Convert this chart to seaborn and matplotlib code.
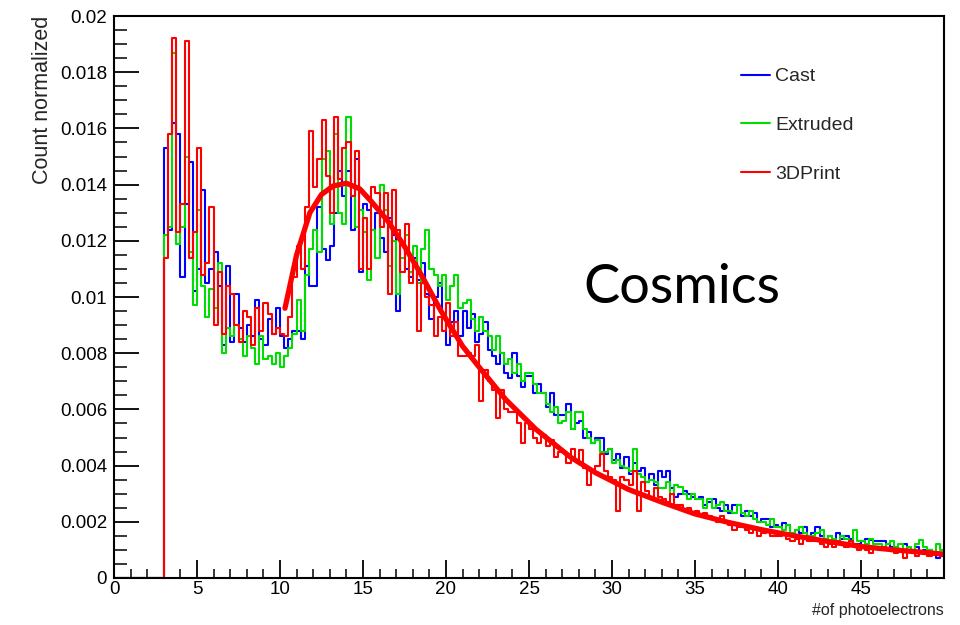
import numpy as np
import pandas as pd
import matplotlib
matplotlib.use("Agg")
import matplotlib.pyplot as plt
import seaborn as sns
from matplotlib.lines import Line2D
from matplotlib.ticker import MultipleLocator, FuncFormatter

# ---------------- data (bin contents in units of 1e-3, bins of 0.25 from 0 to 50) -------------
empty_bins = [0.0] * 12   # 0 .. 3 : no entries

cast = [
    15.3, 12.4, 16.2, 15.8,   10.7, 13.3, 14.8, 10.2,   11.0, 13.8, 10.5, 11.0,
    11.6, 10.4, 8.3, 11.1,    8.4, 10.1, 8.9, 8.4,      9.0, 8.6, 9.9, 8.5,
    8.3, 9.2, 8.7, 9.6,       8.6, 8.2, 8.5, 8.8,       8.8, 8.5, 11.1, 10.4,
    10.4, 13.2, 11.7, 11.3,   11.8, 13.0, 14.5, 13.6,   14.5, 12.4, 14.9, 10.9,
    13.3, 13.1, 12.4, 13.0,   12.1, 11.6, 12.8, 12.2,   9.5, 11.9, 11.0, 10.7,
    11.4, 10.6, 11.2, 10.1,   9.2, 10.0, 10.5, 9.4,     8.3, 9.1, 9.5, 8.6,
    9.5, 8.9, 9.4, 8.4,       8.7, 9.1, 8.1, 7.9,       7.6, 8.0, 7.3, 7.1,
    8.0, 7.2, 6.8, 7.2,       7.2, 6.6, 6.9, 6.6,       6.1, 6.6, 5.8, 5.8,
    5.8, 6.2, 5.3, 5.5,       5.6, 5.0, 5.2, 4.8,       5.0, 5.0, 4.4, 4.6,
    4.2, 4.4, 3.9, 4.3,       3.7, 4.1, 3.8, 3.9,       3.4, 3.7, 3.3, 3.8,
    3.6, 3.8, 3.2, 2.9,       3.0, 3.1, 3.0, 2.9,       2.8, 2.9, 2.6, 2.7,
    2.8, 2.5, 2.4, 2.6,       2.3, 2.6, 2.6, 2.2,       2.4, 2.2, 2.3, 2.0,
    2.1, 2.1, 1.8, 1.9,       1.8, 1.95, 1.9, 1.6,      1.7, 1.6, 1.8, 1.5,
    1.6, 1.8, 1.5, 1.4,       1.5, 1.3, 1.6, 1.4,       1.5, 1.4, 1.2, 1.2,
    1.3, 1.4, 1.35, 1.3,      1.3, 1.3, 1.2, 1.1,       1.1, 1.0, 1.2, 1.0,
    1.0, 1.1, 0.9, 1.0,       1.0, 0.9, 0.7, 0.8,
]

extruded = [
    12.2, 12.5, 18.7, 11.9,   12.5, 15.0, 11.6, 9.7,    13.1, 10.4, 9.3, 10.3,
    9.6, 11.2, 8.0, 8.9,      8.6, 9.0, 8.5, 7.9,       8.6, 8.2, 7.6, 8.6,
    7.8, 7.9, 7.6, 8.0,       7.5, 7.9, 8.2, 8.7,       9.9, 8.8, 10.8, 11.7,
    12.4, 11.6, 14.9, 15.2,   12.6, 15.8, 13.0, 12.6,   16.4, 14.0, 12.5, 13.1,
    12.3, 10.6, 12.4, 11.4,   14.0, 13.1, 11.1, 12.0,   10.1, 11.4, 12.2, 10.9,
    11.8, 10.5, 11.7, 12.4,   11.0, 10.8, 10.4, 10.8,   9.9, 10.4, 10.8, 9.6,
    9.8, 9.9, 9.2, 8.8,       9.3, 8.8, 8.6, 8.1,       8.6, 8.0, 7.6, 7.8,
    7.3, 7.6, 7.0, 7.3,       7.3, 6.9, 6.6, 6.6,       6.2, 5.9, 6.1, 5.5,
    5.6, 5.9, 5.3, 5.9,       5.9, 5.3, 5.0, 4.8,       4.9, 4.5, 4.5, 4.6,
    4.1, 4.2, 4.0, 3.9,       3.8, 4.6, 3.7, 3.6,       3.4, 3.5, 3.4, 3.2,
    3.2, 3.4, 3.0, 3.3,       3.25, 3.0, 2.8, 3.0,      2.8, 2.8, 2.5, 2.8,
    2.5, 2.6, 2.7, 2.4,       2.4, 2.3, 2.6, 2.3,       2.2, 2.4, 2.1, 2.0,
    2.0, 1.9, 2.1, 1.8,       1.8, 1.7, 1.9, 1.6,       1.7, 1.8, 1.6, 1.5,
    1.5, 1.6, 1.7, 1.4,       1.5, 1.4, 1.3, 1.5,       1.4, 1.3, 1.7, 1.3,
    1.3, 1.2, 1.4, 1.2,       1.2, 1.1, 1.2, 1.3,       1.1, 1.2, 1.0, 1.1,
    1.0, 1.2, 1.35, 1.1,      1.0, 0.9, 1.2, 1.0,
]

print3d = [
    11.4, 15.8, 19.2, 12.3,   13.3, 19.1, 11.4, 12.3,   15.3, 10.8, 11.2, 13.2,
    9.0, 10.9, 8.7, 10.4,     10.1, 9.0, 8.4, 9.5,      9.3, 8.3, 9.6, 8.8,
    9.8, 9.4, 8.7, 8.9,       8.7, 8.6, 9.3, 10.7,      11.8, 11.0, 13.2, 15.9,
    13.9, 14.9, 16.3, 14.3,   13.0, 16.4, 14.2, 15.3,   15.5, 13.6, 15.2, 11.0,
    12.8, 11.0, 13.9, 13.7,   12.5, 13.7, 10.1, 13.8,   12.4, 10.9, 12.6, 10.5,
    11.2, 8.8, 10.5, 10.0,    9.7, 8.6, 9.3, 8.8,       9.8, 8.6, 9.1, 7.9,
    7.9, 8.0, 7.9, 8.3,       6.3, 7.4, 7.0, 6.7,       5.7, 6.7, 6.0, 5.9,
    5.9, 5.5, 4.8, 5.5,       5.3, 5.0, 4.8, 5.1,       4.7, 4.9, 4.3, 4.5,
    4.5, 4.1, 4.6, 4.2,       4.55, 3.9, 3.3, 3.8,      4.0, 4.4, 3.8, 3.6,
    3.5, 2.4, 3.6, 3.5,       3.3, 3.8, 2.4, 3.4,       3.1, 2.9, 3.2, 2.9,
    2.8, 2.7, 3.0, 2.6,       2.6, 2.4, 2.5, 2.3,       2.4, 2.2, 2.3, 2.2,
    2.1, 2.0, 2.2, 2.0,       1.9, 1.7, 1.8, 1.85,      1.7, 1.6, 1.8, 1.5,
    1.6, 1.7, 1.5, 1.5,       1.5, 1.6, 1.4, 1.3,       1.4, 1.2, 1.5, 1.3,
    1.3, 1.4, 1.2, 1.1,       1.2, 1.1, 1.3, 1.2,       1.1, 1.3, 1.15, 1.0,
    1.1, 1.0, 0.9, 1.1,       1.0, 1.1, 1.0, 0.95,      0.9, 1.0, 0.7, 0.95,
    0.9, 0.8, 0.9, 0.85,      0.8, 0.9, 0.85, 0.8,
]

# fit curve drawn on top of the 3DPrint histogram (units 1e-3)
fit_x = [10.3, 11.0, 11.8, 12.5, 13.2, 14.0, 14.8, 15.5, 16.5, 17.5, 18.5, 19.7,
         21.0, 22.0, 23.6, 25.4, 27.5, 29.0, 31.0, 33.0, 35.0, 37.0, 39.0, 41.0,
         43.0, 45.0, 47.0, 50.0]
fit_y = [9.6, 11.5, 13.0, 13.65, 13.95, 14.05, 13.85, 13.4, 12.7, 11.8, 10.8, 9.5,
         8.25, 7.5, 6.35, 5.3, 4.3, 3.75, 3.15, 2.7, 2.28, 1.98, 1.72, 1.5,
         1.3, 1.12, 1.0, 0.85]

series_names = ["Cast", "Extruded", "3DPrint"]
series_colors = ["#0000ff", "#00dd00", "#ff0000"]
x_tick_labels = ["0", "5", "10", "15", "20", "25", "30", "35", "40", "45"]
scale = 1e-3

# ---------------- figure -------------------------------------------------------------------
sns.set_style("ticks")
plt.rcParams["font.family"] = ["Liberation Sans", "DejaVu Sans"]

fig = plt.figure(figsize=(9.6, 6.25), dpi=100)
ax = fig.add_axes([114 / 960, 47 / 625, 830 / 960, 562 / 625])

n_bins = 12 + len(cast)
centers = (np.arange(n_bins) + 0.5) * 0.25

for name, vals, col in zip(series_names, [cast, extruded, print3d], series_colors):
    w = np.array(empty_bins + vals) * scale
    df = pd.DataFrame({"x": centers, "w": w})
    sns.histplot(data=df, x="x", weights="w", binwidth=0.25, binrange=(0, 50),
                 element="step", fill=False, color=col, linewidth=1.5, ax=ax)

sns.lineplot(x=np.array(fit_x), y=np.array(fit_y) * scale, color="#ff0000",
             linewidth=3.8, ax=ax, sort=False)

ax.set_xlim(0, 50)
ax.set_ylim(0, 0.02)

ax.xaxis.set_major_locator(MultipleLocator(5))
ax.xaxis.set_minor_locator(MultipleLocator(1))
ax.set_xticks(np.arange(0, 50, 5))
ax.set_xticklabels(x_tick_labels)
ax.yaxis.set_major_locator(MultipleLocator(0.002))
ax.yaxis.set_minor_locator(MultipleLocator(0.0005))
ax.yaxis.set_major_formatter(FuncFormatter(lambda v, p: "%g" % round(v, 4)))

ax.tick_params(axis="y", which="major", direction="in", length=18, width=1.3,
               labelsize=13.5, pad=5, colors="black")
ax.tick_params(axis="y", which="minor", direction="in", length=9.5, width=1.3)
ax.tick_params(axis="x", which="major", direction="in", length=13, width=1.3,
               labelsize=13.5, pad=2, colors="black")
ax.tick_params(axis="x", which="minor", direction="in", length=6.5, width=1.3)
for s in ax.spines.values():
    s.set_linewidth(1.5)
    s.set_color("black")

ax.set_xlabel("#of photoelectrons", fontsize=11.5, loc="right")
ax.xaxis.set_label_coords(1.0, -0.045)
ax.set_ylabel("Count normalized", fontsize=15.5, loc="top")
ax.yaxis.set_label_coords(-0.074, 1.0)

handles = [Line2D([0], [0], color=c, lw=1.5) for c in series_colors]
ax.legend(handles, series_names, loc="upper left", bbox_to_anchor=(0.734, 0.939),
          frameon=False, fontsize=14, handlelength=1.5, handletextpad=0.28,
          labelspacing=1.6)

fig.text(583 / 960, 1 - 287 / 625, "Cosmics", family=["Lato", "DejaVu Sans"],
         fontsize=39, ha="left", va="center", color="black")

fig.savefig("out.png", dpi=100)
